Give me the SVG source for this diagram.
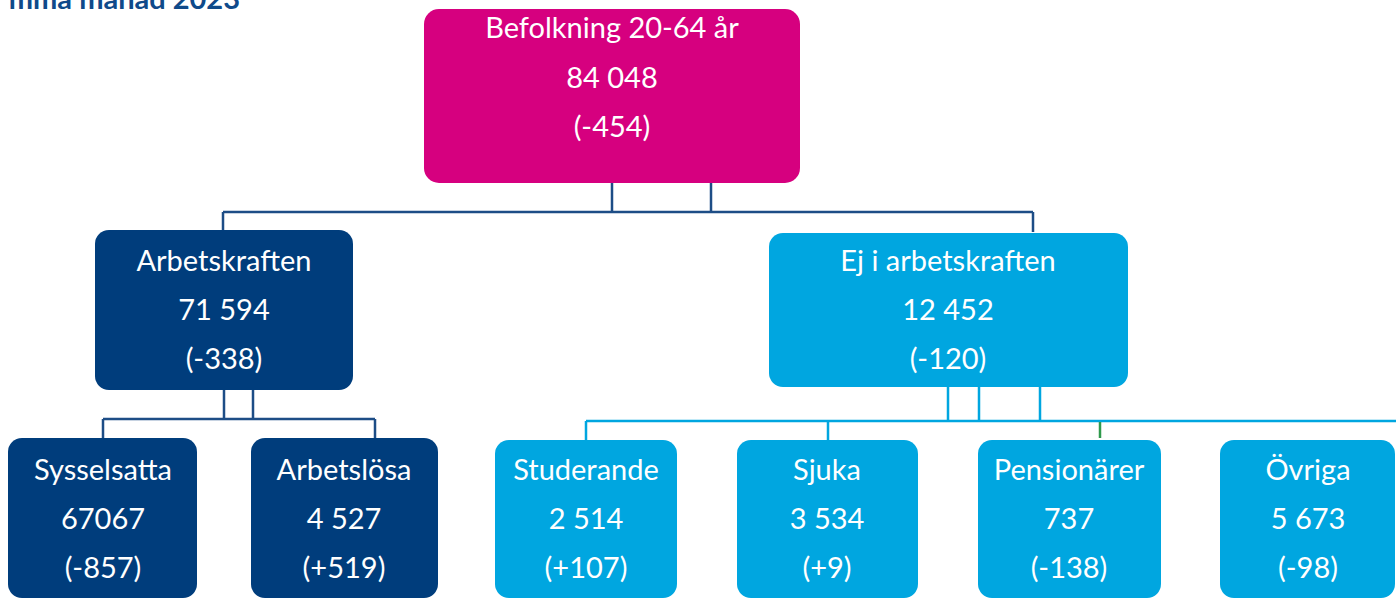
<svg xmlns="http://www.w3.org/2000/svg" width="1396" height="599" viewBox="0 0 1396 599">
<style>
.t{font-family:Lato,"Open Sans","Liberation Sans",sans-serif;font-size:29px;fill:#ffffff;text-anchor:middle}
.title{font-family:Lato,"Open Sans","Liberation Sans",sans-serif;font-size:29px;font-weight:bold;fill:#0f4a8a;text-anchor:end}
.mag{fill:#d6007f}
.dark{fill:#003d7c}
.light{fill:#00a6e0}
.cd{fill:none;stroke:#1d4d86;stroke-width:2.5}
.cl{fill:none;stroke:#00a6e0;stroke-width:2.5}
.cg{fill:none;stroke:#2f9a4c;stroke-width:2.5}
</style>
<rect width="1396" height="599" fill="#ffffff"/>
<text class="title" x="240" y="9">mma månad 2023</text>
<g id="connectors">
<path class="cd" d="M612,183 V212 M711,183 V212 M223,212 H1033 M223,212 V231 M1033,212 V232"/>
<path class="cd" d="M224,390 V419 M253,390 V419 M103,419 H375 M103,419 V438 M375,419 V438"/>
<path class="cl" d="M948,387 V421 M979,387 V421 M1040,387 V421 M586,421 H1396 M586,421 V440 M828,421 V440"/>
<path class="cg" d="M1100,422 V438"/>
</g>
<g id="befolkning">
<rect class="mag" x="424" y="9" width="376" height="174" rx="15"/>
<text class="t" x="612" y="38">Befolkning 20-64 år</text>
<text class="t" x="612" y="88">84 048</text>
<text class="t" x="612" y="137">(-454)</text>
</g>
<g id="arbetskraften">
<rect class="dark" x="95" y="230" width="258" height="160" rx="14"/>
<text class="t" x="224" y="271">Arbetskraften</text>
<text class="t" x="224" y="320">71 594</text>
<text class="t" x="224" y="369">(-338)</text>
</g>
<g id="ej-i-arbetskraften">
<rect class="light" x="769" y="233" width="359" height="154" rx="14"/>
<text class="t" x="948" y="271">Ej i arbetskraften</text>
<text class="t" x="948" y="320">12 452</text>
<text class="t" x="948" y="369">(-120)</text>
</g>
<g id="sysselsatta">
<rect class="dark" x="8" y="438" width="189" height="160" rx="14"/>
<text class="t" x="103" y="480">Sysselsatta</text>
<text class="t" x="103" y="529">67067</text>
<text class="t" x="103" y="578">(-857)</text>
</g>
<g id="arbetslosa">
<rect class="dark" x="251" y="438" width="187" height="160" rx="14"/>
<text class="t" x="344" y="480">Arbetslösa</text>
<text class="t" x="344" y="529">4 527</text>
<text class="t" x="344" y="578">(+519)</text>
</g>
<g id="studerande">
<rect class="light" x="495" y="440" width="182" height="158" rx="14"/>
<text class="t" x="586" y="480">Studerande</text>
<text class="t" x="586" y="529">2 514</text>
<text class="t" x="586" y="578">(+107)</text>
</g>
<g id="sjuka">
<rect class="light" x="737" y="440" width="181" height="158" rx="14"/>
<text class="t" x="827" y="480">Sjuka</text>
<text class="t" x="827" y="529">3 534</text>
<text class="t" x="827" y="578">(+9)</text>
</g>
<g id="pensionarer">
<rect class="light" x="978" y="440" width="183" height="158" rx="14"/>
<text class="t" x="1069" y="480">Pensionärer</text>
<text class="t" x="1069" y="529">737</text>
<text class="t" x="1069" y="578">(-138)</text>
</g>
<g id="ovriga">
<rect class="light" x="1220" y="440" width="175" height="158" rx="14"/>
<text class="t" x="1308" y="480">Övriga</text>
<text class="t" x="1308" y="529">5 673</text>
<text class="t" x="1308" y="578">(-98)</text>
</g>
</svg>
